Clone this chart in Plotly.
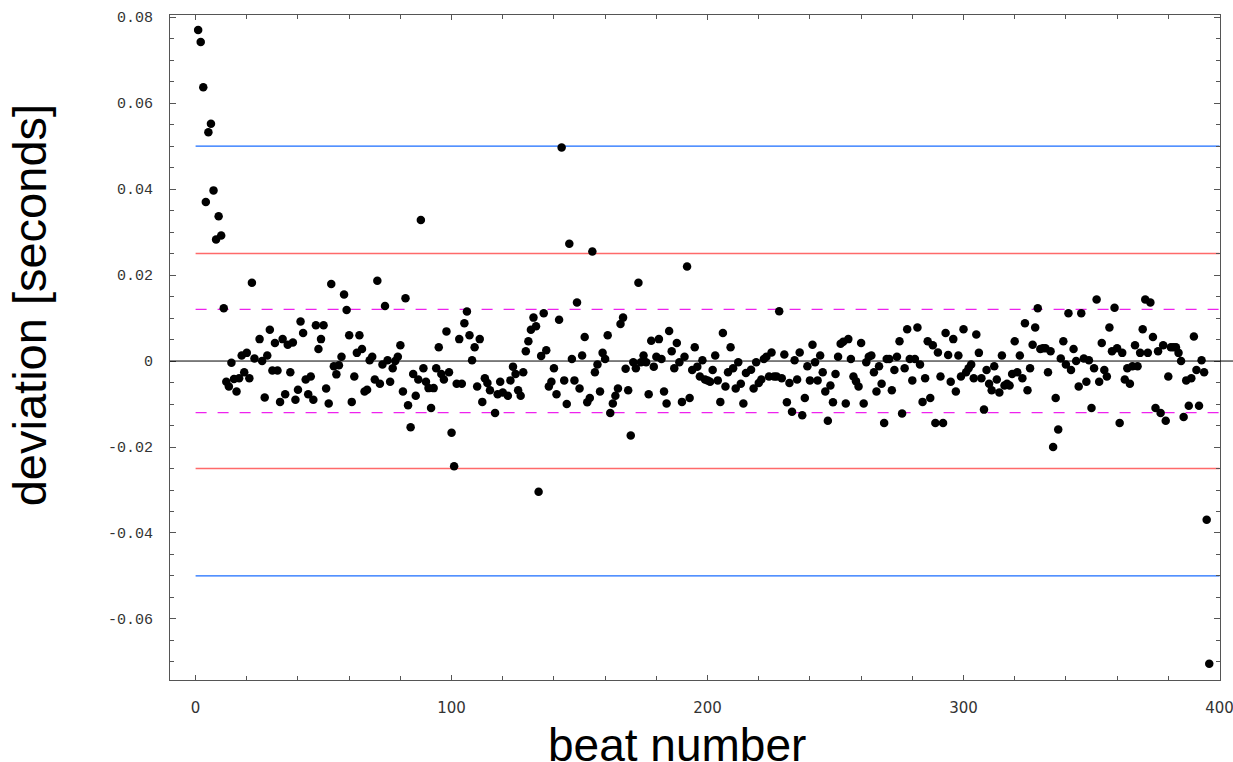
import plotly.graph_objects as go

# ---- data ----
beat = list(range(1, 24)) + list(range(25, 116)) + list(range(117, 121)) + list(range(122, 216)) + list(range(217, 397))

deviation = [
    # 1-23
    0.0770, 0.0742, 0.0637, 0.0370, 0.0532, 0.0552, 0.0397, 0.0283, 0.0337, 0.0292,
    0.0123, -0.0048, -0.0059, -0.0004, -0.0042, -0.0071, -0.0040, 0.0013, -0.0026, 0.0019,
    -0.0040, 0.0182, 0.0006,
    # 25-115
    0.0051, 0.0000, -0.0085, 0.0013, 0.0073, -0.0022, 0.0042, -0.0022, -0.0095, 0.0051,
    -0.0077, 0.0038, -0.0026, 0.0043, -0.0090, -0.0067, 0.0092, 0.0065, -0.0043, -0.0077,
    -0.0036, -0.0090, 0.0083, 0.0028, 0.0051, 0.0083, -0.0064, -0.0099, 0.0179, -0.0012,
    -0.0031, -0.0010, 0.0010, 0.0155, 0.0119, 0.0060, -0.0095, -0.0036, 0.0019, 0.0060,
    0.0028, -0.0071, -0.0067, 0.0002, 0.0010, -0.0043, 0.0187, -0.0053, -0.0008, 0.0128,
    0.0002, -0.0048, -0.0017, 0.0000, 0.0010, 0.0037, -0.0071, 0.0146, -0.0103, -0.0154,
    -0.0030, -0.0081, -0.0043, 0.0328, -0.0017, -0.0048, -0.0063, -0.0109, -0.0063, -0.0017,
    0.0032, -0.0030, -0.0043, 0.0069, -0.0026, -0.0167, -0.0245, -0.0053, 0.0051, -0.0053,
    0.0088, 0.0115, 0.0060, 0.0002, 0.0032, -0.0059, 0.0051, -0.0095, -0.0040, -0.0051,
    -0.0068,
    # 117-120
    -0.0121, -0.0077, -0.0048, -0.0073,
    # 122-215
    -0.0081, -0.0045, -0.0013, -0.0030, -0.0068, -0.0081, -0.0026, 0.0023, 0.0046, 0.0073,
    0.0101, 0.0081, -0.0304, 0.0012, 0.0111, 0.0025, -0.0059, -0.0048, -0.0017, -0.0077,
    0.0096, 0.0497, -0.0045, -0.0100, 0.0273, 0.0005, -0.0045, 0.0136, -0.0064, 0.0013,
    0.0056, -0.0096, -0.0086, 0.0255, -0.0026, -0.0008, -0.0071, 0.0019, 0.0005, 0.0060,
    -0.0121, -0.0099, -0.0081, -0.0064, 0.0086, 0.0101, -0.0018, -0.0068, -0.0173, -0.0003,
    -0.0017, 0.0182, -0.0003, 0.0013, -0.0003, -0.0077, 0.0047, -0.0013, 0.0010, 0.0051,
    0.0005, -0.0071, -0.0099, 0.0070, 0.0023, -0.0017, 0.0042, -0.0003, -0.0095, 0.0010,
    0.0220, -0.0086, -0.0021, 0.0032, -0.0013, -0.0036, 0.0002, -0.0043, -0.0045, -0.0048,
    -0.0021, 0.0013, -0.0045, -0.0095, 0.0065, -0.0059, -0.0026, 0.0032, -0.0017, -0.0064,
    -0.0003, -0.0053, -0.0099, -0.0028,
    # 217-396
    -0.0020, -0.0064, -0.0003, -0.0051, -0.0043, 0.0005, 0.0010, -0.0036, 0.0020, -0.0036,
    -0.0036, 0.0116, -0.0040, 0.0015, -0.0096, -0.0051, -0.0118, 0.0002, -0.0043, 0.0020,
    -0.0126, -0.0086, -0.0012, -0.0045, 0.0038, -0.0003, -0.0045, 0.0013, -0.0026, -0.0071,
    -0.0139, -0.0057, -0.0096, -0.0030, 0.0010, 0.0040, 0.0045, -0.0099, 0.0051, 0.0005,
    -0.0036, -0.0047, -0.0059, 0.0042, -0.0099, -0.0003, 0.0010, 0.0013, -0.0026, -0.0071,
    -0.0012, -0.0053, -0.0144, 0.0005, 0.0005, -0.0068, -0.0021, 0.0010, 0.0046, -0.0122,
    -0.0017, 0.0074, 0.0005, -0.0045, 0.0005, 0.0078, -0.0008, -0.0095, -0.0040, 0.0046,
    -0.0086, 0.0037, -0.0144, 0.0020, -0.0036, -0.0144, 0.0065, 0.0014, -0.0048, 0.0051,
    -0.0071, 0.0013, -0.0036, 0.0074, -0.0026, -0.0017, -0.0008, -0.0040, 0.0062, 0.0019,
    -0.0040, -0.0113, -0.0021, -0.0053, -0.0068, -0.0012, -0.0043, -0.0073, 0.0013, -0.0057,
    -0.0053, -0.0057, -0.0030, 0.0046, -0.0026, 0.0013, -0.0040, 0.0088, -0.0068, -0.0017,
    0.0038, 0.0078, 0.0123, 0.0028, 0.0030, 0.0030, -0.0026, 0.0023, -0.0200, -0.0086,
    -0.0159, 0.0006, 0.0046, -0.0008, 0.0111, -0.0021, 0.0028, 0.0000, -0.0059, 0.0111,
    0.0006, -0.0048, 0.0002, -0.0109, -0.0017, 0.0143, -0.0048, 0.0042, -0.0021, -0.0036,
    0.0078, 0.0023, 0.0124, 0.0030, -0.0144, 0.0019, -0.0043, -0.0017, -0.0053, -0.0012,
    0.0037, -0.0012, 0.0019, 0.0074, 0.0143, 0.0019, 0.0136, 0.0056, -0.0109, 0.0023,
    -0.0121, 0.0037, -0.0139, -0.0036, 0.0032, 0.0032, 0.0032, 0.0019, 0.0000, -0.0130,
    -0.0045, -0.0104, -0.0040, 0.0057, -0.0021, -0.0104, 0.0002, -0.0026, -0.0369, -0.0704,
]

limit_blue = 0.05
limit_red = 0.025
limit_magenta = 0.012
limit_x = [0, 400]

x_tickvals = [0, 100, 200, 300, 400]
x_ticktext = ["0", "100", "200", "300", "400"]
y_tickvals = [-0.06, -0.04, -0.02, 0, 0.02, 0.04, 0.06, 0.08]
y_ticktext = ["-0.06", "-0.04", "-0.02", "0", "0.02", "0.04", "0.06", "0.08"]

fig = go.Figure()

def hline(y, color, width, dash="solid"):
    fig.add_trace(go.Scatter(x=limit_x, y=[y, y], mode="lines",
                             line=dict(color=color, width=width, dash=dash),
                             hoverinfo="skip", showlegend=False))

for s in (1, -1):
    hline(s * limit_blue, "#1a6cff", 1.2)
    hline(s * limit_red, "#ff6a6a", 1.6)
    hline(s * limit_magenta, "#ee22ee", 1.2, "11px,11px")

# zero line extending to the right edge of the picture
fig.add_shape(type="line", xref="paper", yref="y", x0=0, x1=1.02, y0=0, y1=0,
              line=dict(color="black", width=1))

fig.add_trace(go.Scatter(x=beat, y=deviation, mode="markers",
                         marker=dict(color="black", size=8.5), showlegend=False))

axis_common = dict(showline=True, linecolor="#555", linewidth=1, mirror="allticks",
                   ticks="inside", tickcolor="#555", showgrid=False, zeroline=False,
                   automargin=False)

fig.update_xaxes(range=[-10, 400.2], tickvals=x_tickvals, ticktext=x_ticktext,
                 ticklen=5, tickwidth=1, ticklabelstandoff=14, ticklabeloverflow="allow",
                 tickfont=dict(family="DejaVu Sans", size=15, color="#333"),
                 minor=dict(ticks="inside", dtick=20, ticklen=4, tickcolor="#555"),
                 **axis_common)
fig.update_yaxes(range=[-0.0742, 0.0805], tickvals=y_tickvals, ticktext=y_ticktext,
                 ticklen=6, tickwidth=1, ticklabelstandoff=13,
                 tickfont=dict(family="Liberation Mono, DejaVu Sans Mono", size=15, color="#333"),
                 minor=dict(ticks="inside", dtick=0.005, ticklen=4, tickcolor="#555"),
                 **axis_common)

fig.add_annotation(text="beat number", xref="paper", yref="paper", x=0.483, y=-0.056,
                   xanchor="center", yanchor="top", showarrow=False,
                   font=dict(family="Liberation Sans, Arial", size=46, color="black"))
fig.add_annotation(text="deviation [seconds]", xref="paper", yref="paper", x=-0.133, y=0.564,
                   xanchor="center", yanchor="middle", textangle=-90, showarrow=False,
                   font=dict(family="Liberation Sans, Arial", size=47, color="black"))

fig.update_layout(width=1233, height=762, plot_bgcolor="white", paper_bgcolor="white",
                  margin=dict(l=170, r=13, t=15, b=82, autoexpand=False), showlegend=False)

fig.write_html("out.html", config={"displayModeBar": False},
               post_script="document.body.style.margin='0';document.body.style.overflow='hidden';")
